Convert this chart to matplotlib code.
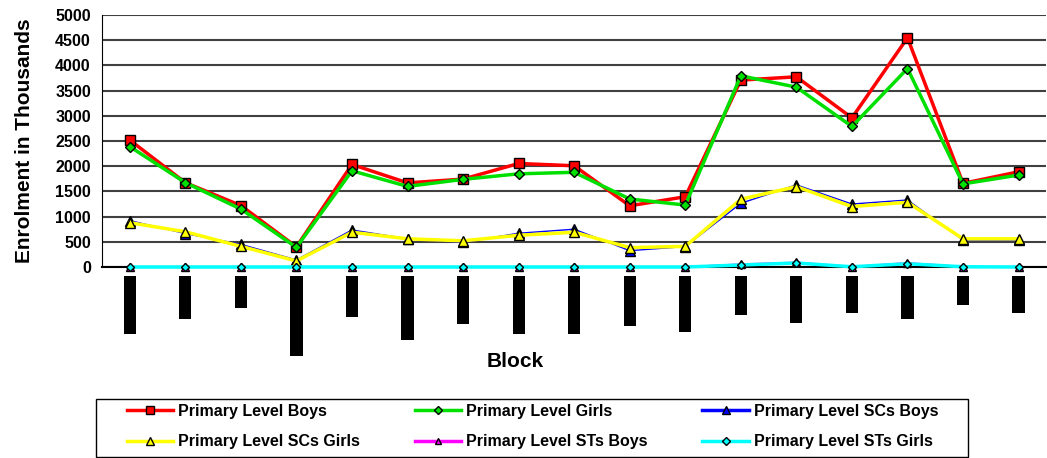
import numpy as np
import matplotlib
matplotlib.use('Agg')
import matplotlib.pyplot as plt
from matplotlib.patches import Rectangle

plt.rcParams['font.family'] = ['Liberation Sans', 'DejaVu Sans']

# 17 blocks, names unreadable in source (rendered as black boxes)
n_blocks = 17
boys = [2520, 1675, 1220, 400, 2035, 1670, 1745, 2055, 2010, 1215, 1395,
        3710, 3775, 2960, 4550, 1660, 1890]
girls = [2390, 1675, 1150, 390, 1910, 1600, 1740, 1850, 1880, 1350, 1230,
         3795, 3570, 2790, 3940, 1650, 1825]
sc_boys = [920, 665, 450, 140, 735, 560, 490, 670, 750, 325, 405,
           1265, 1630, 1250, 1330, 535, 535]
sc_girls = [880, 700, 410, 120, 690, 560, 520, 630, 690, 385, 410,
            1345, 1595, 1200, 1285, 560, 560]
st_boys = [5, 5, 5, 5, 5, 5, 5, 5, 5, 5, 5, 60, 95, 10, 85, 10, 5]
st_girls = [0, 0, 0, 0, 0, 0, 0, 0, 0, 0, 0, 40, 80, 5, 65, 5, 0]
# length of the (blacked-out) block name labels, in data units below the axis
label_len = [1150, 850, 630, 1590, 810, 1270, 950, 1150, 1150, 990, 1110,
             770, 930, 730, 850, 570, 730]

series = [
    ('Primary Level Boys', boys, '#ff0000', 's', 2.5, 6.5),
    ('Primary Level Girls', girls, '#00e000', 'D', 2.5, 5.5),
    ('Primary Level SCs Boys', sc_boys, '#0000ff', '^', 1.0, 6.5),
    ('Primary Level SCs Girls', sc_girls, '#ffff00', '^', 2.5, 7),
    ('Primary Level STs Boys', st_boys, '#ff00ff', '^', 1.0, 5.5),
    ('Primary Level STs Girls', st_girls, '#00ffff', 'D', 2.5, 4.5),
]

x = np.arange(n_blocks)
W, H = 1047, 458

fig = plt.figure(figsize=(W / 100, H / 100), dpi=100)
ax = fig.add_axes([0.0974, 0.417, 0.902, 0.550])

handles = []
for name, vals, col, mk, lw, ms in series:
    h, = ax.plot(x, vals, color=col, lw=lw, marker=mk, markersize=ms,
                 markerfacecolor=col, markeredgecolor='black', markeredgewidth=1,
                 label=name, clip_on=False, zorder=3)
    handles.append(h)

# black label boxes under each category
ax.bar(x, -np.array(label_len), bottom=-180, width=0.22, color='black',
       clip_on=False, zorder=2)

ax.set_xlim(-0.5, n_blocks - 0.5)
ax.set_ylim(0, 5000)
ax.set_yticks(np.arange(0, 5001, 500))
ax.set_xticks([])
ax.grid(axis='y', color='#404040', lw=1.5)
ax.set_axisbelow(True)
for s in ['top', 'right']:
    ax.spines[s].set_visible(False)
ax.spines['left'].set_color('black')
ax.spines['bottom'].set_color('black')
ax.spines['bottom'].set_linewidth(1.5)
ax.tick_params(axis='y', length=0, pad=8, labelsize=11.5)
for t in ax.get_yticklabels():
    t.set_fontweight('bold')

ax.set_ylabel('Enrolment in Thousands', fontsize=15, fontweight='bold', labelpad=15)
fig.text(0.492, 0.21, 'Block', fontsize=15, fontweight='bold', ha='center', va='center')

# legend fills row by row in the source
order = [0, 3, 1, 4, 2, 5]
leg = fig.legend([handles[i] for i in order], [series[i][0] for i in order],
                 loc='upper left', bbox_to_anchor=(127 / W, 0, 811 / W, 1 - 404 / H),
                 mode='expand', ncol=3, fontsize=11.5, frameon=False,
                 handlelength=2.9, handletextpad=0.3, borderaxespad=0, borderpad=0,
                 labelspacing=0.95, markerscale=0.8)
for t in leg.get_texts():
    t.set_fontweight('bold')
for lh in leg.legend_handles:
    lh.set_linewidth(2.5)
fig.add_artist(Rectangle((96 / W, 1 / H), 872 / W, 58 / H, transform=fig.transFigure,
                         fill=False, edgecolor='black', lw=1))

fig.savefig('out.png', dpi=100)
